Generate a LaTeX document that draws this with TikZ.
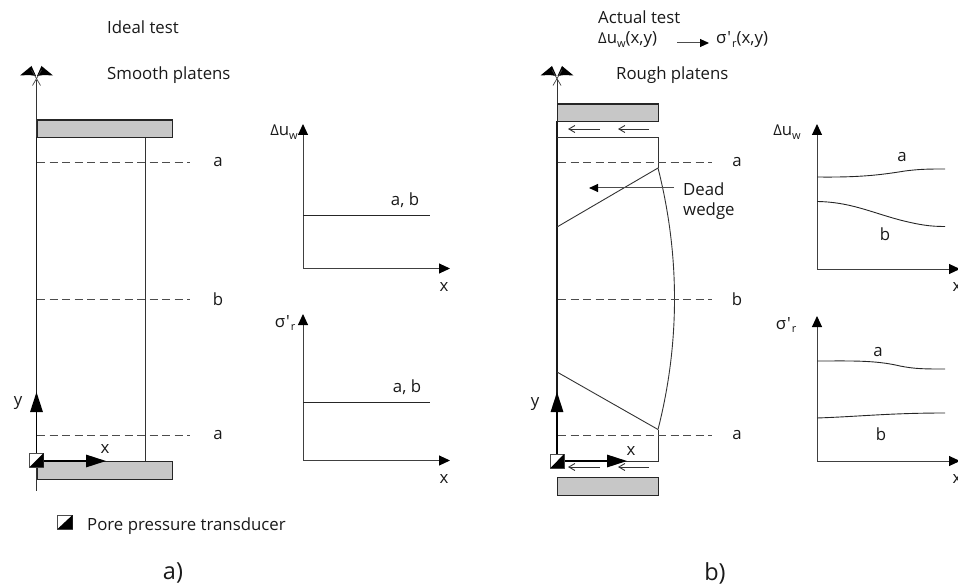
\documentclass[tikz,border=0pt]{standalone}
\usepackage{fontspec}
\setmainfont{Open Sans}
\usetikzlibrary{arrows.meta}
\newcommand{\subtxt}[1]{\raisebox{-3.5pt}{\fontsize{11}{11}\selectfont #1}}
\newcommand{\Duw}{{\fontsize{15}{15}\selectfont Δ}u\subtxt{w}}
\newcommand{\Sgr}{σ\hspace{1pt}′\hspace{1pt}\subtxt{r}}
\tikzset{
  x=1pt,y=-1pt,
  every node/.style={font=\fontsize{16.8}{19}\selectfont,inner sep=0pt,text=black!90},
  thinline/.style={line width=0.9pt,draw=black!80},
  edgeline/.style={line width=1.15pt,draw=black!90},
  plate/.style={draw=black!85,line width=1.1pt,fill=black!22},
  dashline/.style={line width=0.9pt,draw=black!70,dash pattern=on 8pt off 4.5pt},
  bigarrow/.style={line width=1.5pt,draw=black,-{Triangle[length=20pt,width=12.5pt]}},
  axisarrow/.style={line width=1pt,draw=black!75,-{Triangle[length=11pt,width=10pt,fill=black,color=black]}},
  tinyarrow/.style={line width=0.9pt,draw=black!80,-{Straight Barb[length=6pt,width=7pt]}},
  labelarrow/.style={line width=1pt,draw=black!70,-{Triangle[length=9pt,width=8pt,color=black]}},
  curveline/.style={line width=0.9pt,draw=black!85},
  xbar/.style={line width=0.7pt,draw=black!75},
  tip/.style={fill=black,draw=none},
  trans/.style={draw=black!70,line width=0.7pt,fill=white}
}
\begin{document}
\begin{tikzpicture}
\useasboundingbox (0,0) rectangle (958,588);
% ---------- LEFT ----------
\node[anchor=west] (t1) at (107,27) {Ideal test};
\node[anchor=west] (t2) at (107,75) {Smooth platens};
% axis and double top
\draw[thinline] (36.5,80) -- (36.5,491);
\foreach \dx in {0,520.5}{
  \begin{scope}[shift={(\dx,0)}]
  \fill[tip] (20,75.5) -- (31.5,66) -- (36,76) -- (29,75) -- cycle;
  \fill[tip] (53,75.5) -- (41.5,66) -- (37,76) -- (44,75) -- cycle;
  \draw[xbar] (31.5,70) -- (40.5,85.5);
  \draw[xbar] (41.5,70) -- (32.5,85.5);
  \end{scope}
}
\draw[thinline] (36.5,137) rectangle (145,461);
\draw[edgeline] (36.5,137) -- (36.5,461);
\node[plate,minimum width=135pt,minimum height=17.5pt,anchor=north west] (pl1) at (36.5,119.5) {};
\node[plate,minimum width=135pt,minimum height=17.5pt,anchor=north west] (pl2) at (36.5,461) {};
\foreach \yy/\ll in {162/a,299/b,435/a}{
  \draw[dashline] (37,\yy) -- (190,\yy);
  \node (l\yy) at (218,\yy) {\ll};
}
\coordinate (o1) at (36.5,461);
\coordinate (yt1) at (36.5,392);
\coordinate (xt1) at (106,461);
\draw[bigarrow] (o1) -- (yt1);
\draw[bigarrow] (o1) -- (xt1);
\node (y1) at (18,403) {y};
\node (x1) at (105,449) {x};
\draw[trans] (29.5,453) rectangle (43.5,467);
\fill[black] (29.5,467) -- (43.5,453) -- (43.5,467) -- cycle;
% legend
\draw[trans,line width=1pt] (57.5,515) rectangle (72.5,529);
\fill[black] (57.5,529) -- (72.5,515) -- (72.5,529) -- cycle;
\node[anchor=west] (leg) at (87,526) {Pore pressure transducer};
\node[font=\fontsize{23.5}{24}\selectfont] (ca) at (173,573) {a)};
% graph L1
\coordinate (g1o) at (303,268.5);
\coordinate (g1y) at (303,124);
\coordinate (g1x) at (450,268.5);
\draw[axisarrow] (g1o) -- (g1y);
\draw[axisarrow] (g1o) -- (g1x);
\node (g1yl) at (284,132) {\Duw};
\node (g1xl) at (444,287) {x};
\draw[curveline] (303,215) -- (430,215);
\node (g1ab) at (405,200) {a, b};
% graph L2
\coordinate (g2o) at (303,460.5);
\coordinate (g2y) at (303,314);
\coordinate (g2x) at (450,460.5);
\draw[axisarrow] (g2o) -- (g2y);
\draw[axisarrow] (g2o) -- (g2x);
\node (g2yl) at (285,323) {\Sgr};
\node (g2xl) at (444,479) {x};
\draw[curveline] (303,402) -- (430,402);
\node (g2ab) at (407,387) {a, b};
% ---------- RIGHT ----------
\node[anchor=west] (t3) at (598,17) {Actual test};
\node[anchor=west] (t4) at (598,40) {\Duw(x,y)};
\node[anchor=west] (t5) at (716,40) {\Sgr(x,y)};
\draw[labelarrow] (677,43) -- (709,43);
\node[anchor=west] (t6) at (616,75) {Rough platens};
\draw[thinline] (557,80) -- (557,121);
\draw[edgeline] (557,121) -- (557,461);
\node[plate,minimum width=101pt,minimum height=17.5pt,anchor=north west] (pr1) at (557,103.5) {};
\node[plate,minimum width=101pt,minimum height=17.5pt,anchor=north west] (pr2) at (557,477) {};
\draw[thinline] (557,137) -- (658,137) -- (658,168);
\draw[thinline] (658,168) .. controls (680,255) and (680,343) .. (658,429.5);
\draw[thinline] (658,429.5) -- (658,461) -- (557,461);
\draw[thinline] (557,227) -- (658,168);
\draw[thinline] (557,372) -- (658,429.5);
\foreach \yy/\ll in {162/a,299/b,435/a}{
  \draw[dashline] (558,\yy) -- (712,\yy);
  \node (r\yy) at (737,\yy) {\ll};
}
\foreach \yy in {129,467}{
  \draw[tinyarrow] (600,\yy) -- (568,\yy);
  \draw[tinyarrow] (649,\yy) -- (618,\yy);
}
\draw[labelarrow] (674,188) -- (589,188);
\node[anchor=west] (dw1) at (683,189) {Dead};
\node[anchor=west] (dw2) at (683,211) {wedge};
\coordinate (o2) at (557,461);
\coordinate (yt2) at (557,392);
\coordinate (xt2) at (627,461);
\draw[bigarrow] (o2) -- (yt2);
\draw[bigarrow] (o2) -- (xt2);
\node (y2) at (535,404) {y};
\node (x2) at (631,451) {x};
\draw[trans] (550.5,454) rectangle (564,468);
\fill[black] (550.5,468) -- (564,454) -- (564,468) -- cycle;
\node[font=\fontsize{23.5}{24}\selectfont] (cb) at (715,573) {b)};
% graph R1
\coordinate (g3o) at (817,269);
\coordinate (g3y) at (817,124);
\coordinate (g3x) at (960,269);
\draw[axisarrow] (g3o) -- (g3y);
\draw[axisarrow] (g3o) -- (g3x);
\node (g3yl) at (787,132) {\Duw};
\node (g3xl) at (957,287) {x};
\draw[curveline] (817,177) .. controls (860,177.5) and (880,175) .. (905,171) .. controls (920,169) and (930,169) .. (945,169);
\draw[curveline] (817,201.5) .. controls (850,202) and (870,212) .. (900,220) .. controls (920,225) and (930,226.5) .. (945,226.5);
\node (g3a) at (902,157) {a};
\node (g3b) at (885,234) {b};
% graph R2
\coordinate (g4o) at (817,461);
\coordinate (g4y) at (817,316);
\coordinate (g4x) at (960,461);
\draw[axisarrow] (g4o) -- (g4y);
\draw[axisarrow] (g4o) -- (g4x);
\node (g4yl) at (786,325) {\Sgr};
\node (g4xl) at (957,479) {x};
\draw[curveline] (817,361) .. controls (850,361) and (875,360) .. (900,366) .. controls (915,369) and (925,369) .. (945,369);
\draw[curveline] (817,418) .. controls (860,416.5) and (890,413) .. (945,413);
\node (g4a) at (878,352) {a};
\node (g4b) at (881,434) {b};
\end{tikzpicture}
\end{document}
